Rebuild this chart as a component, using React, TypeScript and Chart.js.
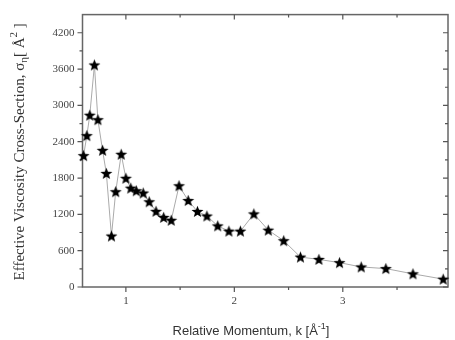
import { useEffect, useRef } from "react";
import { Chart, registerables } from "chart.js";

Chart.register(...registerables);

const momentum = [0.61, 0.64, 0.667, 0.71, 0.742, 0.785, 0.82, 0.867, 0.906, 0.957, 1.0, 1.045, 1.096, 1.16, 1.215, 1.278, 1.348, 1.418, 1.49, 1.575, 1.66, 1.747, 1.847, 1.95, 2.056, 2.18, 2.313, 2.455, 2.61, 2.78, 2.97, 3.17, 3.397, 3.647, 3.926];
const crossSection = [2170, 2500, 2838, 3668, 2763, 2258, 1877, 842, 1574, 2193, 1796, 1633, 1590, 1552, 1408, 1250, 1150, 1102, 1672, 1428, 1248, 1172, 1009, 923, 923, 1207, 939, 765, 494, 456, 402, 331, 304, 217, 130];
const xMajorTicks = [1, 2, 3];
const xMinorTicks = [1.5, 2.5, 3.5];
const yMajorTicks = [0, 600, 1200, 1800, 2400, 3000, 3600, 4200];
const yMinorTicks = [300, 900, 1500, 2100, 2700, 3300, 3900];
const xRange = [0.6, 3.97];
const yRange = [0, 4500];

function makeStar(r: number) {
  const size = Math.ceil(r * 2 + 2);
  const c = document.createElement("canvas");
  c.width = size;
  c.height = size;
  const ctx = c.getContext("2d")!;
  const cx = size / 2;
  const cy = size / 2 + r * 0.08;
  const ri = r * 0.42;
  ctx.beginPath();
  for (let i = 0; i < 10; i++) {
    const rr = i % 2 === 0 ? r : ri;
    const a = -Math.PI / 2 + (i * Math.PI) / 5;
    ctx.lineTo(cx + rr * Math.cos(a), cy + rr * Math.sin(a));
  }
  ctx.closePath();
  ctx.fillStyle = "#000";
  ctx.fill();
  return c;
}

type Seg = { t: string; shift?: number; small?: boolean };

function drawSegs(ctx: CanvasRenderingContext2D, segs: Seg[], family: string, size: number, cx: number, baseline: number) {
  const big = `${size}px ${family}`;
  const sm = `${Math.round(size * 0.7)}px ${family}`;
  let total = 0;
  const widths = segs.map((s) => {
    ctx.font = s.small ? sm : big;
    const w = ctx.measureText(s.t).width;
    total += w;
    return w;
  });
  let x = cx - total / 2;
  segs.forEach((s, i) => {
    ctx.font = s.small ? sm : big;
    ctx.fillText(s.t, x, baseline + (s.shift || 0));
    x += widths[i];
  });
}

const framePlugin = {
  id: "frame",
  beforeDatasetsDraw(chart: any) {
    const { ctx, chartArea: a, scales } = chart;
    const xs = scales.x;
    const ys = scales.y;
    ctx.save();
    ctx.strokeStyle = "#666";
    ctx.lineWidth = 1.5;
    ctx.strokeRect(a.left, a.top, a.right - a.left, a.bottom - a.top);
    ctx.lineWidth = 1.2;
    ctx.strokeStyle = "#555";
    ctx.beginPath();
    const xt = (v: number, len: number) => {
      const px = xs.getPixelForValue(v);
      ctx.moveTo(px, a.bottom);
      ctx.lineTo(px, a.bottom + len);
      ctx.moveTo(px, a.top);
      ctx.lineTo(px, a.top + len);
    };
    const yt = (v: number, len: number) => {
      const py = ys.getPixelForValue(v);
      ctx.moveTo(a.left, py);
      ctx.lineTo(a.left - len, py);
      ctx.moveTo(a.right, py);
      ctx.lineTo(a.right - len, py);
    };
    xMajorTicks.forEach((v) => xt(v, 5));
    xMinorTicks.forEach((v) => xt(v, 3));
    yMajorTicks.forEach((v) => yt(v, 5));
    yMinorTicks.forEach((v) => yt(v, 3));
    ctx.stroke();
    ctx.restore();
  },
  afterDraw(chart: any) {
    const { ctx, chartArea: a } = chart;
    ctx.save();
    ctx.fillStyle = "#333";
    ctx.textBaseline = "alphabetic";
    ctx.textAlign = "left";
    drawSegs(
      ctx,
      [{ t: "Relative Momentum, k [Å" }, { t: "-1", small: true, shift: -6 }, { t: "]" }],
      '"Liberation Sans", Arial, sans-serif',
      13,
      251,
      335
    );
    ctx.translate(24, (a.top + a.bottom) / 2 + 1);
    ctx.rotate(-Math.PI / 2);
    drawSegs(
      ctx,
      [
        { t: "Effective Viscosity Cross-Section, σ" },
        { t: "η", small: true, shift: 3 },
        { t: "[ Å" },
        { t: "2", small: true, shift: -7 },
        { t: " ]" },
      ],
      '"Liberation Serif", "Times New Roman", serif',
      15,
      0,
      0
    );
    ctx.restore();
  },
};

export default function App() {
  const ref = useRef<HTMLCanvasElement>(null);
  useEffect(() => {
    if (!ref.current) return;
    const star = makeStar(6.3);
    const tickFont = { family: '"Liberation Serif", "Times New Roman", serif', size: 11 };
    const chart = new Chart(ref.current, {
      type: "line",
      data: {
        datasets: [
          {
            data: momentum.map((x, i) => ({ x, y: crossSection[i] })),
            borderColor: "#aaa",
            borderWidth: 1,
            pointStyle: star as any,
            pointRadius: 6,
            clip: false as any,
            tension: 0,
          },
        ],
      },
      options: {
        animation: false,
        responsive: false,
        devicePixelRatio: 1,
        layout: { padding: { left: 0, top: 11, right: 1, bottom: 0 } },
        plugins: { legend: { display: false }, tooltip: { enabled: false } },
        scales: {
          x: {
            type: "linear",
            min: xRange[0],
            max: xRange[1],
            grid: { display: false, drawTicks: false },
            border: { display: false },
            afterBuildTicks: (s: any) => {
              s.ticks = xMajorTicks.map((v) => ({ value: v }));
            },
            afterFit: (s: any) => {
              s.height = 53;
            },
            ticks: { font: tickFont, color: "#444", padding: 8, maxRotation: 0, callback: (v: any) => String(v) },
          },
          y: {
            type: "linear",
            min: yRange[0],
            max: yRange[1],
            grid: { display: false, drawTicks: false },
            border: { display: false },
            afterBuildTicks: (s: any) => {
              s.ticks = yMajorTicks.map((v) => ({ value: v }));
            },
            afterFit: (s: any) => {
              s.width = 82.5;
            },
            ticks: { font: tickFont, color: "#444", padding: 8, callback: (v: any) => String(v) },
          },
        },
      },
      plugins: [framePlugin],
    });
    return () => chart.destroy();
  }, []);
  return (
    <div style={{ position: "absolute", left: 0, top: 0, width: 455, height: 340, background: "#fff" }}>
      <canvas ref={ref} width={455} height={340} />
    </div>
  );
}
